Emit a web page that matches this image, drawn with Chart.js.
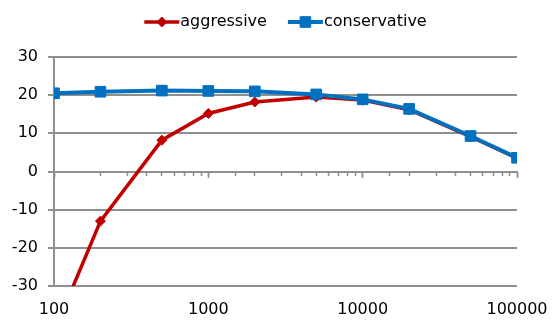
<!DOCTYPE html>
<html>
<head>
<meta charset="utf-8">
<script src="https://cdn.jsdelivr.net/npm/chart.js@4/dist/chart.umd.min.js"></script>
<style>
  html, body { margin: 0; padding: 0; background: #ffffff; }
  #wrap { width: 552px; height: 323px; }
</style>
</head>
<body>
<div id="wrap"><canvas id="chart" width="552" height="323"></canvas></div>
<script>
// Frequency points (log axis) and the two gain curves
const frequencies = [100, 200, 500, 1000, 2000, 5000, 10000, 20000, 50000, 100000];
const aggressive = [-42, -13, 8.2, 15.2, 18.2, 19.5, 18.7, 16.2, 9.1, 3.5];
const conservative = [20.5, 20.9, 21.2, 21.1, 21.0, 20.2, 18.9, 16.4, 9.3, 3.6];
const seriesNames = ['aggressive', 'conservative'];
const xTickLabels = [100, 1000, 10000, 100000];
const yTickValues = [-30, -20, -10, 0, 10, 20, 30];

const FONT = '"DejaVu Sans", "Liberation Sans", Arial, sans-serif';
const GRID = '#8f8f8f';
const RED = '#c00000';
const BLUE = '#0070c0';

function toPoints(values) {
  return frequencies.map((f, i) => ({ x: f, y: values[i] }));
}

function drawMarker(ctx, style, radius, x, y) {
  if (Chart.helpers && Chart.helpers.drawPoint) {
    Chart.helpers.drawPoint(ctx, { pointStyle: style, radius: radius, borderWidth: 1, rotation: 0 }, x, y);
    return;
  }
  ctx.beginPath();
  if (style === 'rectRot') {
    ctx.moveTo(x, y - radius); ctx.lineTo(x + radius, y);
    ctx.lineTo(x, y + radius); ctx.lineTo(x - radius, y); ctx.closePath();
  } else {
    const s = radius * Math.SQRT1_2;
    ctx.rect(x - s, y - s, 2 * s, 2 * s);
  }
  ctx.fill(); ctx.stroke();
}

// Legend: a short line with the series marker, followed by the name
const lineLegend = {
  id: 'lineLegend',
  afterDraw(chart) {
    const ctx = chart.ctx;
    const area = chart.chartArea;
    const sample = 35, textGap = 1, itemGap = 21, y = 22;
    ctx.save();
    ctx.font = '16px ' + FONT;
    const items = chart.data.datasets.map(ds => ({ ds, w: sample + textGap + ctx.measureText(ds.label).width }));
    const total = items.reduce((a, it) => a + it.w, 0) + itemGap * (items.length - 1);
    let x = (area.left + area.right) / 2 - total / 2;
    items.forEach(({ ds, w }) => {
      ctx.strokeStyle = ds.borderColor;
      ctx.fillStyle = ds.backgroundColor;
      ctx.lineWidth = ds.borderWidth;
      ctx.beginPath();
      ctx.moveTo(x, y);
      ctx.lineTo(x + sample, y);
      ctx.stroke();
      ctx.lineWidth = 1;
      drawMarker(ctx, ds.pointStyle, ds.pointRadius, x + sample / 2, y);
      ctx.fillStyle = '#000000';
      ctx.textAlign = 'left';
      ctx.textBaseline = 'middle';
      ctx.fillText(ds.label, x + sample + textGap, y);
      x += w + itemGap;
    });
    ctx.restore();
  }
};

const logAxisBase = { type: 'logarithmic', min: frequencies[0], max: frequencies[frequencies.length - 1] };

new Chart(document.getElementById('chart'), {
  type: 'line',
  data: {
    datasets: [
      {
        label: seriesNames[0],
        data: toPoints(aggressive),
        borderColor: RED, backgroundColor: RED,
        borderWidth: 3.5,
        pointStyle: 'rectRot', pointRadius: 5, pointBorderWidth: 1,
        pointBackgroundColor: RED, pointBorderColor: RED,
        order: 1
      },
      {
        label: seriesNames[1],
        data: toPoints(conservative),
        borderColor: BLUE, backgroundColor: BLUE,
        borderWidth: 4,
        pointStyle: 'rect', pointRadius: 7.5, pointBorderWidth: 1,
        pointBackgroundColor: BLUE, pointBorderColor: BLUE,
        order: 0
      }
    ]
  },
  options: {
    responsive: false,
    animation: false,
    devicePixelRatio: 1,
    layout: { padding: { top: 57, right: 35, bottom: 0, left: 0 } },
    plugins: { legend: { display: false }, tooltip: { enabled: false } },
    elements: { line: { tension: 0 } },
    scales: {
      x: {
        ...logAxisBase,
        position: 'bottom',
        grid: { display: false, drawTicks: false },
        border: { display: false },
        afterBuildTicks: s => { s.ticks = xTickLabels.map(v => ({ value: v })); },
        afterFit: s => { s.height = 37; s.paddingLeft = 0; s.paddingRight = 0; },
        ticks: {
          autoSkip: false, maxRotation: 0, padding: 14,
          color: '#000000', font: { family: FONT, size: 16 },
          callback: v => String(v)
        }
      },
      // axis line crossing at y = 0 with the minor tick marks
      xZero: {
        ...logAxisBase,
        axis: 'x',
        position: { y: 0 },
        grid: { drawOnChartArea: false, drawTicks: true, tickLength: 3, tickColor: GRID, tickWidth: 1.5 },
        border: { display: true, color: GRID, width: 2 },
        ticks: { display: false, autoSkip: false }
      },
      // longer marks at each decade
      xMajor: {
        ...logAxisBase,
        axis: 'x',
        position: { y: 0 },
        afterBuildTicks: s => { s.ticks = xTickLabels.map(v => ({ value: v })); },
        grid: { drawOnChartArea: false, drawTicks: true, tickLength: 6, tickColor: GRID, tickWidth: 1.5 },
        border: { display: false },
        ticks: { display: false, autoSkip: false }
      },
      y: {
        type: 'linear',
        min: yTickValues[0], max: yTickValues[yTickValues.length - 1],
        afterBuildTicks: s => { s.ticks = yTickValues.map(v => ({ value: v })); },
        afterFit: s => { s.width = 54; },
        grid: { color: GRID, lineWidth: 2, tickLength: 6 },
        border: { display: true, color: GRID, width: 2 },
        ticks: {
          padding: 10, color: '#000000',
          font: { family: FONT, size: 16 }
        }
      }
    }
  },
  plugins: [lineLegend]
});
</script>
</body>
</html>
